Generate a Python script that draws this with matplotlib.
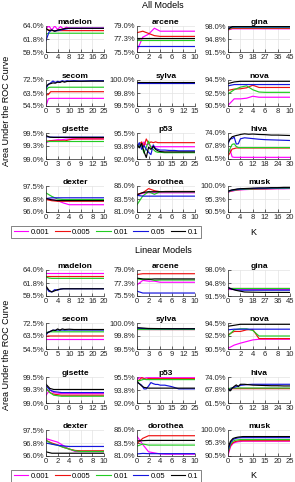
import matplotlib
matplotlib.use('Agg')
import matplotlib.pyplot as plt
from matplotlib.lines import Line2D

plt.rcParams['font.family'] = ['Liberation Sans', 'DejaVu Sans']

# ---------------- data ----------------
series_labels = ['0.001', '0.005', '0.01', '0.05', '0.1']
panel_names = ['madelon', 'arcene', 'gina', 'secom', 'sylva', 'nova',
               'gisette', 'p53', 'hiva', 'dexter', 'dorothea', 'musk']

all_xmax = [20, 10, 45, 25, 15, 10, 15, 25, 30, 10, 10, 20]
all_xstep = [4, 2, 9, 5, 3, 2, 3, 5, 6, 2, 2, 4]
lin_xmax = [20, 10, 45, 25, 15, 10, 15, 25, 30, 10, 10, 25]
lin_xstep = [4, 2, 9, 5, 3, 2, 3, 5, 6, 2, 2, 5]
y_lo = [59.5, 75.5, 91.5, 54.5, 99.5, 90.5, 99.0, 92.0, 61.5, 96.0, 81.0, 90.5]
y_hi = [64.0, 79.0, 98.0, 72.5, 100.0, 94.5, 99.5, 95.5, 74.0, 97.5, 86.0, 100.0]
y_ticklabels = [
    ['59.5%', '61.8%', '64.0%'], ['75.5%', '77.3%', '79.0%'], ['91.5%', '94.8%', '98.0%'],
    ['54.5%', '63.5%', '72.5%'], ['99.5%', '99.8%', '100.0%'], ['90.5%', '92.5%', '94.5%'],
    ['99.0%', '99.3%', '99.5%'], ['92.0%', '93.8%', '95.5%'], ['61.5%', '67.8%', '74.0%'],
    ['96.0%', '96.8%', '97.5%'], ['81.0%', '83.5%', '86.0%'], ['90.5%', '95.3%', '100.0%'],
]

# ---- All Models ----  (series order: 0.001, 0.005, 0.01, 0.05, 0.1)
all_madelon_k = [0, 1, 2, 3, 4, 5, 6, 7, 8, 10, 12, 14, 16, 18, 20]
all_madelon = [
    [63.5, 64.0, 63.3, 64.0, 63.4, 63.9, 63.5, 63.8, 63.65, 63.65, 63.65, 63.65, 63.65, 63.65, 63.65],
    [63.4, 63.3, 63.2, 63.2, 63.2, 63.2, 63.2, 63.2, 63.2, 63.2, 63.2, 63.2, 63.2, 63.2, 63.2],
    [62.6, 62.75, 62.75, 62.75, 62.75, 62.75, 62.75, 62.75, 62.75, 62.75, 62.75, 62.75, 62.75, 62.75, 62.75],
    [61.5, 62.9, 63.3, 63.1, 63.2, 63.3, 63.4, 63.5, 63.6, 63.6, 63.6, 63.6, 63.6, 63.6, 63.6],
    [63.6, 63.2, 63.3, 63.1, 63.3, 63.4, 63.5, 63.6, 63.6, 63.6, 63.6, 63.6, 63.6, 63.6, 63.6],
]
all_arcene_k = [0, 1, 2, 3, 4, 5, 6, 7, 8, 9, 10]
all_arcene = [
    [75.7, 77.5, 77.9, 78.7, 78.3, 78.3, 78.3, 78.3, 78.3, 78.3, 78.3],
    [78.1, 78.3, 78.0, 77.7, 77.6, 77.6, 77.6, 77.6, 77.6, 77.6, 77.6],
    [77.05, 77.05, 77.05, 77.05, 77.05, 77.05, 77.05, 77.05, 77.05, 77.05, 77.05],
    [76.3, 76.3, 76.3, 76.3, 76.3, 76.3, 76.3, 76.3, 76.3, 76.3, 76.3],
    [77.35, 77.35, 77.35, 77.35, 77.35, 77.35, 77.35, 77.35, 77.35, 77.35, 77.35],
]
all_gina_k = [0, 3, 6, 9, 18, 27, 36, 45]
all_gina = [
    [97.0, 97.3, 97.3, 97.3, 97.3, 97.3, 97.3, 97.3],
    [97.1, 97.4, 97.4, 97.4, 97.4, 97.4, 97.4, 97.4],
    [97.2, 97.6, 97.6, 97.6, 97.6, 97.6, 97.6, 97.6],
    [97.4, 97.75, 97.75, 97.75, 97.75, 97.75, 97.75, 97.75],
    [97.2, 97.85, 97.9, 97.9, 97.9, 97.9, 97.9, 97.9],
]
all_secom_k = [0, 1, 2, 3, 4, 5, 6, 7, 8, 9, 10, 12, 15, 20, 25]
all_secom = [
    [54.5, 59.5, 59.8, 59.8, 59.8, 59.8, 59.8, 59.8, 59.8, 59.8, 59.8, 59.8, 59.8, 59.8, 59.8],
    [62.2, 62.4, 64.4, 64.4, 64.4, 64.4, 64.4, 64.4, 64.4, 64.4, 64.4, 64.4, 64.4, 64.4, 64.4],
    [65.0, 67.3, 67.5, 67.5, 67.5, 67.5, 67.5, 67.5, 67.5, 67.5, 67.5, 67.5, 67.5, 67.5, 67.5],
    [66.5, 69.5, 70.5, 71.8, 70.8, 71.6, 71.2, 72.0, 71.5, 72.0, 71.8, 72.0, 71.8, 72.0, 72.0],
    [68.0, 69.5, 70.0, 70.5, 70.3, 71.0, 70.8, 71.5, 71.0, 71.5, 71.5, 71.6, 71.6, 71.7, 71.7],
]
all_sylva_k = [0, 3, 6, 9, 12, 15]
all_sylva = [
    [99.945, 99.948, 99.948, 99.948, 99.948, 99.948],
    [99.948, 99.95, 99.95, 99.95, 99.95, 99.95],
    [99.94, 99.948, 99.948, 99.948, 99.948, 99.948],
    [99.95, 99.95, 99.95, 99.95, 99.95, 99.95],
    [99.952, 99.951, 99.951, 99.951, 99.951, 99.951],
]
all_nova_k = [0, 1, 2, 3, 4, 5, 6, 7, 8, 9, 10]
all_nova = [
    [90.6, 91.6, 91.6, 91.7, 92.0, 91.85, 91.85, 91.85, 91.85, 91.85, 91.85],
    [92.9, 93.1, 93.15, 93.3, 93.7, 93.35, 93.35, 93.35, 93.35, 93.35, 93.35],
    [92.35, 93.0, 93.4, 93.6, 93.0, 92.65, 92.6, 92.6, 92.6, 92.6, 92.6],
    [93.6, 93.8, 93.8, 93.8, 93.8, 93.8, 93.8, 93.8, 93.8, 93.8, 93.8],
    [93.95, 94.2, 94.3, 94.3, 94.3, 94.3, 94.3, 94.3, 94.3, 94.3, 94.3],
]
all_gisette_k = [0, 1, 2, 3, 4, 5, 6, 7, 8, 10, 12, 15]
all_gisette = [
    [99.31, 99.35, 99.36, 99.37, 99.37, 99.38, 99.385, 99.39, 99.39, 99.39, 99.39, 99.39],
    [99.34, 99.35, 99.35, 99.35, 99.35, 99.35, 99.37, 99.38, 99.385, 99.385, 99.385, 99.385],
    [99.34, 99.34, 99.34, 99.34, 99.34, 99.34, 99.34, 99.34, 99.34, 99.34, 99.34, 99.34],
    [99.43, 99.42, 99.42, 99.42, 99.42, 99.42, 99.42, 99.42, 99.42, 99.42, 99.42, 99.42],
    [99.45, 99.42, 99.415, 99.415, 99.415, 99.415, 99.415, 99.415, 99.415, 99.415, 99.415, 99.415],
]
all_p53_k = [0, 1, 2, 3, 4, 5, 6, 7, 8, 9, 10, 12, 14, 16, 18, 20, 22, 25]
all_p53 = [
    [93.5, 94.0, 93.6, 94.3, 93.9, 94.0, 93.7, 93.65, 93.65, 93.65, 93.65, 93.65, 93.65, 93.65, 93.65, 93.65, 93.65, 93.65],
    [93.8, 94.0, 94.3, 93.7, 94.7, 94.1, 94.3, 94.2, 94.3, 94.2, 94.2, 94.2, 94.2, 94.2, 94.2, 94.2, 94.2, 94.2],
    [93.5, 93.9, 93.8, 92.8, 93.6, 94.4, 93.5, 93.3, 93.0, 92.9, 92.9, 92.85, 92.85, 92.85, 92.85, 92.85, 92.85, 92.85],
    [93.6, 94.2, 93.3, 93.8, 93.3, 92.9, 92.6, 93.9, 93.4, 93.3, 93.2, 93.2, 93.15, 93.15, 93.1, 93.1, 93.1, 93.1],
    [93.9, 93.5, 94.1, 93.0, 92.2, 93.6, 93.3, 93.7, 93.3, 93.1, 93.0, 92.95, 92.95, 92.95, 92.95, 92.95, 92.95, 92.95],
]
all_hiva_k = [0, 1, 2, 3, 4, 5, 6, 8, 10, 12, 15, 18, 21, 24, 27, 30]
all_hiva = [
    [64.5, 66.0, 62.5, 62.3, 62.3, 62.3, 62.3, 62.3, 62.3, 62.3, 62.3, 62.3, 62.3, 62.3, 62.3, 62.3],
    [63.0, 64.5, 66.3, 66.5, 66.8, 66.8, 66.8, 66.8, 66.8, 66.8, 66.8, 66.8, 66.8, 66.8, 66.8, 66.8],
    [64.0, 66.5, 68.5, 68.8, 67.5, 67.0, 67.0, 67.0, 67.0, 67.0, 67.0, 67.0, 67.0, 67.0, 67.0, 67.0],
    [68.7, 71.2, 71.3, 72.0, 68.7, 68.8, 71.2, 71.7, 71.5, 71.3, 71.0, 70.8, 70.7, 70.6, 70.5, 70.4],
    [69.5, 71.0, 72.2, 72.5, 72.8, 73.0, 73.3, 73.6, 73.4, 73.5, 73.3, 73.2, 73.0, 73.0, 72.9, 72.8],
]
all_dexter_k = [0, 1, 2, 3, 4, 5, 6, 7, 8, 9, 10]
all_dexter = [
    [96.75, 96.72, 96.65, 96.52, 96.42, 96.42, 96.42, 96.42, 96.42, 96.42, 96.42],
    [96.72, 96.65, 96.62, 96.62, 96.62, 96.62, 96.62, 96.62, 96.62, 96.62, 96.62],
    [97.1, 96.9, 96.75, 96.72, 96.72, 96.72, 96.72, 96.72, 96.72, 96.72, 96.72],
    [96.78, 96.82, 96.82, 96.82, 96.82, 96.82, 96.82, 96.82, 96.82, 96.82, 96.82],
    [96.78, 96.7, 96.66, 96.66, 96.66, 96.66, 96.66, 96.66, 96.66, 96.66, 96.66],
]
all_dorothea_k = [0, 1, 2, 3, 4, 5, 6, 7, 8, 9, 10]
all_dorothea = [
    [84.3, 84.6, 84.7, 84.7, 84.7, 84.7, 84.7, 84.7, 84.7, 84.7, 84.7],
    [84.4, 84.7, 85.5, 85.1, 84.9, 84.95, 84.95, 84.95, 84.95, 84.95, 84.95],
    [82.4, 84.1, 84.9, 84.4, 84.9, 84.9, 84.9, 84.9, 84.9, 84.9, 84.9],
    [84.2, 84.05, 84.05, 84.05, 84.05, 84.05, 84.05, 84.05, 84.05, 84.05, 84.05],
    [84.3, 84.75, 84.9, 84.9, 84.9, 84.9, 84.9, 84.9, 84.9, 84.9, 84.9],
]
all_musk_k = [0, 1, 2, 3, 4, 6, 8, 10, 12, 14, 16, 18, 20]
all_musk = [
    [97.7, 98.1, 98.3, 98.5, 98.6, 98.7, 98.8, 98.85, 98.9, 98.95, 99.0, 99.0, 99.05],
    [97.8, 98.2, 98.4, 98.6, 98.7, 98.8, 98.9, 98.95, 99.0, 99.05, 99.1, 99.1, 99.15],
    [97.9, 98.3, 98.5, 98.65, 98.75, 98.85, 98.95, 99.0, 99.05, 99.1, 99.15, 99.15, 99.2],
    [98.0, 98.4, 98.6, 98.8, 98.9, 99.0, 99.1, 99.15, 99.2, 99.25, 99.3, 99.3, 99.35],
    [98.1, 98.5, 98.7, 98.9, 99.0, 99.1, 99.2, 99.3, 99.3, 99.4, 99.4, 99.5, 99.5],
]

# ---- Linear Models ----
lin_madelon_k = [0, 1, 2, 3, 4, 5, 6, 8, 10, 12, 14, 16, 18, 20]
lin_madelon = [
    [63.45, 63.45, 63.45, 63.45, 63.45, 63.45, 63.45, 63.45, 63.45, 63.45, 63.45, 63.45, 63.45, 63.45],
    [63.0, 63.0, 63.0, 63.0, 63.0, 63.0, 63.0, 63.0, 63.0, 63.0, 63.0, 63.0, 63.0, 63.0],
    [62.8, 62.6, 62.55, 62.55, 62.55, 62.55, 62.55, 62.55, 62.55, 62.55, 62.55, 62.55, 62.55, 62.55],
    [61.0, 60.3, 60.2, 60.6, 60.5, 60.7, 60.75, 60.75, 60.75, 60.75, 60.75, 60.75, 60.75, 60.75],
    [61.2, 60.5, 60.2, 60.4, 60.6, 60.7, 60.75, 60.75, 60.75, 60.75, 60.75, 60.75, 60.75, 60.75],
]
lin_arcene_k = [0, 1, 2, 3, 4, 5, 6, 7, 8, 9, 10]
lin_arcene = [
    [77.0, 77.6, 77.5, 77.5, 77.35, 77.35, 77.35, 77.35, 77.35, 77.35, 77.35],
    [78.4, 78.5, 78.5, 78.5, 78.5, 78.5, 78.5, 78.5, 78.5, 78.5, 78.5],
    [77.8, 77.7, 77.8, 77.6, 77.65, 77.65, 77.65, 77.65, 77.65, 77.65, 77.65],
    [76.15, 75.9, 75.9, 75.9, 75.9, 75.9, 75.9, 75.9, 75.9, 75.9, 75.9],
    [77.9, 77.8, 77.75, 77.8, 77.8, 77.8, 77.8, 77.8, 77.8, 77.8, 77.8],
]
lin_gina_k = [0, 3, 6, 9, 12, 18, 27, 36, 45]
lin_gina = [
    [93.3, 93.3, 93.3, 93.3, 93.3, 93.3, 93.3, 93.3, 93.3],
    [93.4, 93.4, 93.4, 93.4, 93.4, 93.4, 93.4, 93.4, 93.4],
    [93.5, 93.5, 93.5, 93.5, 93.5, 93.5, 93.5, 93.5, 93.5],
    [93.6, 93.2, 93.0, 92.95, 92.95, 92.95, 92.95, 92.95, 92.95],
    [93.6, 93.2, 92.9, 92.7, 92.5, 92.45, 92.4, 92.4, 92.4],
]
lin_secom_k = [0, 1, 2, 3, 4, 5, 6, 7, 8, 10, 12, 15, 20, 25]
lin_secom = [
    [61.6, 61.6, 61.6, 61.6, 61.6, 61.6, 61.6, 61.6, 61.6, 61.6, 61.6, 61.6, 61.6, 61.6],
    [63.2, 63.5, 63.5, 63.5, 63.5, 63.5, 63.5, 63.5, 63.5, 63.5, 63.5, 63.5, 63.5, 63.5],
    [65.7, 66.3, 66.4, 66.4, 66.4, 66.4, 66.4, 66.4, 66.4, 66.4, 66.4, 66.4, 66.4, 66.4],
    [64.2, 66.2, 66.8, 67.5, 67.4, 67.6, 67.5, 67.6, 67.5, 67.6, 67.6, 67.6, 67.6, 67.6],
    [65.3, 66.0, 66.8, 67.6, 67.3, 68.4, 67.6, 68.4, 68.0, 68.2, 68.0, 68.0, 68.0, 68.0],
]
lin_sylva_k = [0, 3, 6, 9, 12, 15]
lin_sylva = [
    [99.89, 99.89, 99.89, 99.89, 99.89, 99.89],
    [99.89, 99.89, 99.89, 99.89, 99.89, 99.89],
    [99.89, 99.89, 99.89, 99.89, 99.89, 99.89],
    [99.9, 99.89, 99.89, 99.89, 99.89, 99.89],
    [99.91, 99.895, 99.892, 99.89, 99.89, 99.89],
]
lin_nova_k = [0, 1, 2, 3, 4, 5, 6, 7, 8, 9, 10]
lin_nova = [
    [90.6, 91.1, 91.4, 91.65, 91.9, 92.0, 92.0, 92.0, 92.0, 92.0, 92.0],
    [92.7, 93.2, 93.2, 93.45, 93.5, 92.1, 92.1, 92.1, 92.1, 92.1, 92.1],
    [92.5, 93.45, 93.6, 93.6, 93.35, 92.5, 92.5, 92.5, 92.5, 92.5, 92.5],
    [93.45, 93.55, 93.55, 93.55, 93.55, 93.55, 93.55, 93.55, 93.55, 93.55, 93.55],
    [94.0, 94.15, 94.3, 94.3, 94.3, 94.3, 94.3, 94.3, 94.3, 94.3, 94.3],
]
lin_gisette_k = [0, 1, 2, 3, 4, 5, 6, 7, 8, 10, 12, 15]
lin_gisette = [
    [99.15, 99.25, 99.2, 99.19, 99.18, 99.18, 99.18, 99.18, 99.18, 99.18, 99.18, 99.18],
    [99.28, 99.2, 99.17, 99.16, 99.15, 99.15, 99.15, 99.15, 99.15, 99.15, 99.15, 99.15],
    [99.28, 99.2, 99.15, 99.14, 99.13, 99.13, 99.13, 99.13, 99.13, 99.13, 99.13, 99.13],
    [99.33, 99.25, 99.22, 99.21, 99.2, 99.2, 99.2, 99.2, 99.2, 99.2, 99.2, 99.2],
    [99.36, 99.28, 99.26, 99.26, 99.26, 99.26, 99.26, 99.26, 99.26, 99.26, 99.26, 99.26],
]
lin_p53_k = [0, 1, 2, 3, 4, 5, 6, 7, 8, 9, 10, 12, 15, 18, 20, 22, 25]
lin_p53 = [
    [95.15, 95.4, 95.45, 95.3, 95.4, 95.4, 95.4, 95.4, 95.4, 95.4, 95.4, 95.4, 95.4, 95.4, 95.4, 95.4, 95.4],
    [94.9, 95.1, 95.4, 95.3, 95.2, 95.3, 95.28, 95.28, 95.28, 95.28, 95.28, 95.28, 95.28, 95.28, 95.28, 95.28, 95.28],
    [95.0, 95.0, 95.1, 95.2, 95.15, 95.15, 95.15, 95.15, 95.15, 95.15, 95.15, 95.15, 95.15, 95.15, 95.15, 95.15, 95.15],
    [94.75, 94.6, 94.4, 93.9, 93.9, 94.3, 94.75, 94.6, 94.5, 94.5, 94.4, 94.4, 94.2, 93.9, 93.9, 93.9, 93.9],
    [94.9, 94.6, 94.3, 94.1, 94.05, 94.0, 94.0, 94.0, 94.0, 94.0, 94.0, 94.0, 94.0, 94.0, 94.0, 94.0, 94.0],
]
lin_hiva_k = [0, 1, 2, 3, 4, 5, 6, 8, 10, 12, 15, 18, 21, 24, 27, 30]
lin_hiva = [
    [68.0, 68.5, 68.5, 68.5, 68.5, 68.5, 68.5, 68.5, 68.5, 68.5, 68.5, 68.5, 68.5, 68.5, 68.5, 68.5],
    [68.2, 68.4, 68.4, 68.4, 68.4, 68.4, 68.4, 68.4, 68.4, 68.4, 68.4, 68.4, 68.4, 68.4, 68.4, 68.4],
    [68.0, 68.6, 68.7, 68.7, 68.7, 68.7, 68.7, 68.7, 68.7, 68.7, 68.7, 68.7, 68.7, 68.7, 68.7, 68.7],
    [68.25, 67.7, 68.8, 69.0, 69.4, 69.6, 70.0, 70.2, 70.4, 70.5, 70.5, 70.5, 70.5, 70.5, 70.5, 70.5],
    [68.6, 67.3, 68.6, 69.5, 70.2, 69.4, 70.5, 70.5, 70.3, 70.1, 70.0, 69.9, 69.8, 69.8, 69.7, 69.7],
]
lin_dexter_k = [0, 1, 2, 3, 4, 5, 6, 7, 8, 9, 10]
lin_dexter = [
    [97.0, 96.9, 96.8, 96.6, 96.4, 96.26, 96.26, 96.26, 96.26, 96.26, 96.26],
    [96.9, 96.75, 96.64, 96.5, 96.4, 96.32, 96.3, 96.3, 96.3, 96.3, 96.3],
    [96.9, 96.7, 96.62, 96.5, 96.4, 96.3, 96.26, 96.26, 96.26, 96.26, 96.26],
    [96.75, 96.68, 96.62, 96.58, 96.55, 96.55, 96.55, 96.55, 96.55, 96.55, 96.55],
    [96.24, 96.16, 96.16, 96.16, 96.16, 96.16, 96.16, 96.16, 96.16, 96.16, 96.16],
]
lin_dorothea_k = [0, 1, 2, 3, 4, 5, 6, 7, 8, 9, 10]
lin_dorothea = [
    [84.8, 83.2, 81.8, 81.6, 81.4, 81.35, 81.35, 81.35, 81.35, 81.35, 81.35],
    [83.4, 84.4, 84.9, 84.9, 84.9, 84.9, 84.9, 84.9, 84.9, 84.9, 84.9],
    [82.9, 83.3, 83.1, 83.1, 83.1, 83.1, 83.1, 83.1, 83.1, 83.1, 83.1],
    [81.4, 81.5, 81.45, 81.45, 81.45, 81.45, 81.45, 81.45, 81.45, 81.45, 81.45],
    [83.9, 83.95, 84.0, 84.0, 84.0, 84.0, 84.0, 84.0, 84.0, 84.0, 84.0],
]
lin_musk_k = [0, 1, 2, 3, 4, 5, 6, 8, 10, 15, 20, 25]
lin_musk = [
    [90.7, 93.9, 95.1, 95.5, 95.7, 95.8, 95.9, 95.9, 95.9, 95.9, 95.9, 95.9],
    [91.5, 94.3, 95.4, 95.8, 96.0, 96.1, 96.1, 96.1, 96.1, 96.1, 96.1, 96.1],
    [92.0, 94.8, 95.9, 96.3, 96.4, 96.5, 96.5, 96.5, 96.5, 96.5, 96.5, 96.5],
    [92.5, 95.4, 96.5, 96.9, 97.1, 97.2, 97.2, 97.2, 97.2, 97.2, 97.2, 97.2],
    [93.3, 95.9, 96.9, 97.2, 97.4, 97.5, 97.6, 97.6, 97.6, 97.6, 97.6, 97.6],
]

all_data = [(all_madelon_k, all_madelon), (all_arcene_k, all_arcene), (all_gina_k, all_gina),
            (all_secom_k, all_secom), (all_sylva_k, all_sylva), (all_nova_k, all_nova),
            (all_gisette_k, all_gisette), (all_p53_k, all_p53), (all_hiva_k, all_hiva),
            (all_dexter_k, all_dexter), (all_dorothea_k, all_dorothea), (all_musk_k, all_musk)]
lin_data = [(lin_madelon_k, lin_madelon), (lin_arcene_k, lin_arcene), (lin_gina_k, lin_gina),
            (lin_secom_k, lin_secom), (lin_sylva_k, lin_sylva), (lin_nova_k, lin_nova),
            (lin_gisette_k, lin_gisette), (lin_p53_k, lin_p53), (lin_hiva_k, lin_hiva),
            (lin_dexter_k, lin_dexter), (lin_dorothea_k, lin_dorothea), (lin_musk_k, lin_musk)]

# ---------------- layout / style ----------------
colors = ['#ff00ff', '#ee1111', '#22cc22', '#1414dd', '#000000']
W, H = 295, 482
fig = plt.figure(figsize=(W / 100, H / 100), dpi=100)

col_left = [46, 137, 228]
col_width = [58, 58, 62]
group_rows = [[26, 80, 133, 186], [270, 323, 377, 430]]
row_h = 26
axcol = '#262626'


def draw_group(data, xmax, xstep, rows):
    for i, (k, ys) in enumerate(data):
        r, c = divmod(i, 3)
        top = rows[r]
        ax = fig.add_axes([col_left[c] / W, 1 - (top + row_h) / H, col_width[c] / W, row_h / H])
        for s in range(5):
            ax.plot(k, ys[s], color=colors[s], lw=0.85, solid_joinstyle='round')
        ax.set_xlim(0, xmax[i])
        ax.set_xticks(list(range(0, xmax[i] + 1, xstep[i])))
        lo, hi = y_lo[i], y_hi[i]
        ax.set_ylim(lo, hi)
        ax.set_yticks([lo, (lo + hi) / 2, hi])
        ax.set_yticklabels(y_ticklabels[i])
        ax.grid(True, color='#e3e3e3', lw=0.5)
        ax.set_axisbelow(True)
        for sp in ['top', 'right']:
            ax.spines[sp].set_visible(False)
        for sp in ['left', 'bottom']:
            ax.spines[sp].set_color(axcol)
            ax.spines[sp].set_linewidth(0.5)
        ax.tick_params(direction='in', length=2, width=0.5, labelsize=5.5,
                       colors=axcol, pad=1.5)
        ax.set_title(panel_names[i], fontsize=6, fontweight='bold', pad=1.5, color='black')


draw_group(all_data, all_xmax, all_xstep, group_rows[0])
draw_group(lin_data, lin_xmax, lin_xstep, group_rows[1])

handles = [Line2D([], [], color=c, lw=0.8) for c in colors]
for gtitle, ty, ylab_y, k_y, leg_y in [('All Models', 6, 111, 232, 232),
                                       ('Linear Models', 250, 355, 475, 476)]:
    fig.text(163 / W, 1 - ty / H, gtitle, ha='center', va='center', fontsize=6.5)
    fig.text(7 / W, 1 - ylab_y / H, 'Area Under the ROC Curve', rotation=90,
             ha='center', va='center', fontsize=6.5)
    fig.text(253 / W, 1 - k_y / H, 'K', ha='center', va='center', fontsize=6.5)
    leg = fig.legend(handles, series_labels, loc='center', bbox_to_anchor=(106 / W, 1 - leg_y / H),
                     ncol=5, fontsize=5.5, handlelength=1.9, handletextpad=0.35,
                     columnspacing=0.7, borderpad=0.3, borderaxespad=0, frameon=True, fancybox=False)
    leg.get_frame().set_edgecolor(axcol)
    leg.get_frame().set_linewidth(0.5)

fig.savefig('out.png', dpi=100)
